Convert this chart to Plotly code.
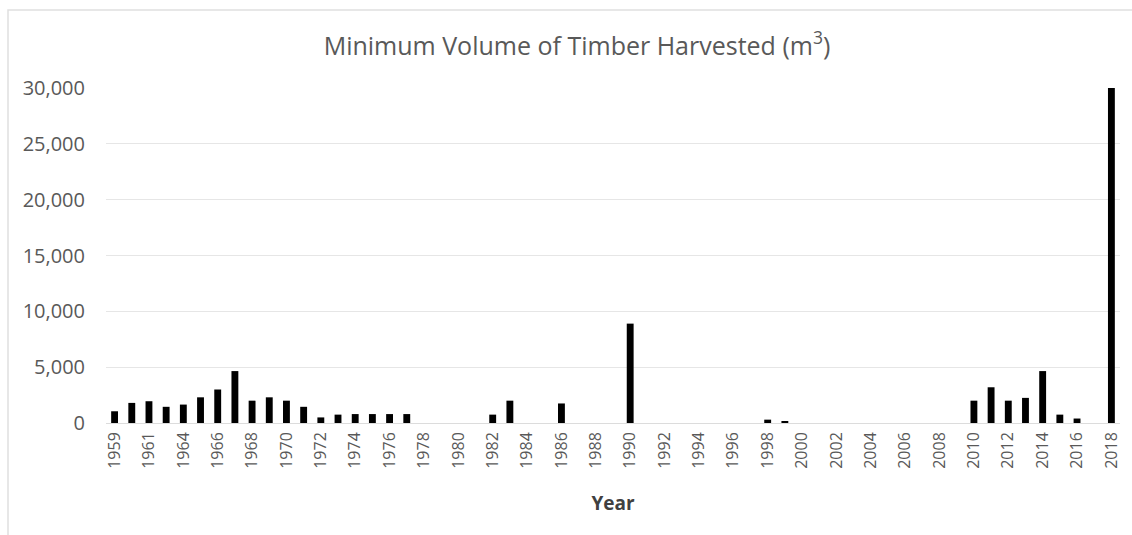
import plotly.graph_objects as go

years = ["1959", "1960", "1961", "1962"] + [str(y) for y in range(1964, 2019)]
volumes = [
    1050, 1800, 1950, 1450,            # 1959-1962
    1650, 2300, 3000, 4650, 2000,      # 1964-1968
    2300, 2000, 1450, 500, 750,        # 1969-1973
    800, 800, 800, 800, 0,             # 1974-1978
    0, 0, 0, 750, 2000,                # 1979-1983
    0, 0, 1750, 0, 0,                  # 1984-1988
    0, 8900, 0, 0, 0,                  # 1989-1993
    0, 0, 0, 0, 300,                   # 1994-1998
    150, 0, 0, 0, 0,                   # 1999-2003
    0, 0, 0, 0, 0,                     # 2004-2008
    0, 2000, 3200, 2000, 2250,         # 2009-2013
    4650, 750, 400, 0, 30000,          # 2014-2018
]
tick_years = years[::2]
y_ticks = [0, 5000, 10000, 15000, 20000, 25000, 30000]

W, H = 1132, 535
L, R, T, B = 106, 12, 88, 112
pw, ph = W - L - R, H - T - B

def px_x(x):
    return (x - L) / pw

def px_y(y):
    return (H - B - y) / ph

fig = go.Figure(go.Bar(x=years, y=volumes, marker=dict(color="#000000", line=dict(width=0))))

fig.update_layout(
    width=W, height=H,
    margin=dict(l=L, r=R, t=T, b=B, autoexpand=False),
    paper_bgcolor="white", plot_bgcolor="white",
    bargap=0.6,
    showlegend=False,
    font=dict(family="Open Sans", color="#595959"),
    title=dict(text="Minimum Volume of Timber Harvested (m<sup>3</sup>)",
               x=577 / W, xanchor="center", y=1 - 46 / H, yanchor="middle",
               font=dict(size=25, color="#595959")),
    xaxis=dict(type="category", tickmode="array", tickvals=tick_years, ticktext=tick_years,
               tickangle=-90, tickfont=dict(size=16, color="#595959"),
               showgrid=False, showline=False, ticks="", ticklabelstandoff=5,
               title=dict(text="<b>Year</b>", font=dict(size=19, color="#404040"), standoff=28)),
    yaxis=dict(range=[0, 30000], tickvals=y_ticks, tickformat=",d",
               tickfont=dict(size=20, color="#595959"),
               showgrid=True, gridcolor="#e6e6e6", gridwidth=1,
               zeroline=True, zerolinecolor="#dcdcdc", zerolinewidth=1,
               showline=False, ticks="", ticklabelstandoff=20),
    shapes=[dict(type="rect", xref="paper", yref="paper",
                 x0=px_x(8), x1=px_x(1145), y0=px_y(545), y1=px_y(10),
                 line=dict(color="#e0e0e0", width=1.5), layer="below")],
)

fig.write_html("out.html")
